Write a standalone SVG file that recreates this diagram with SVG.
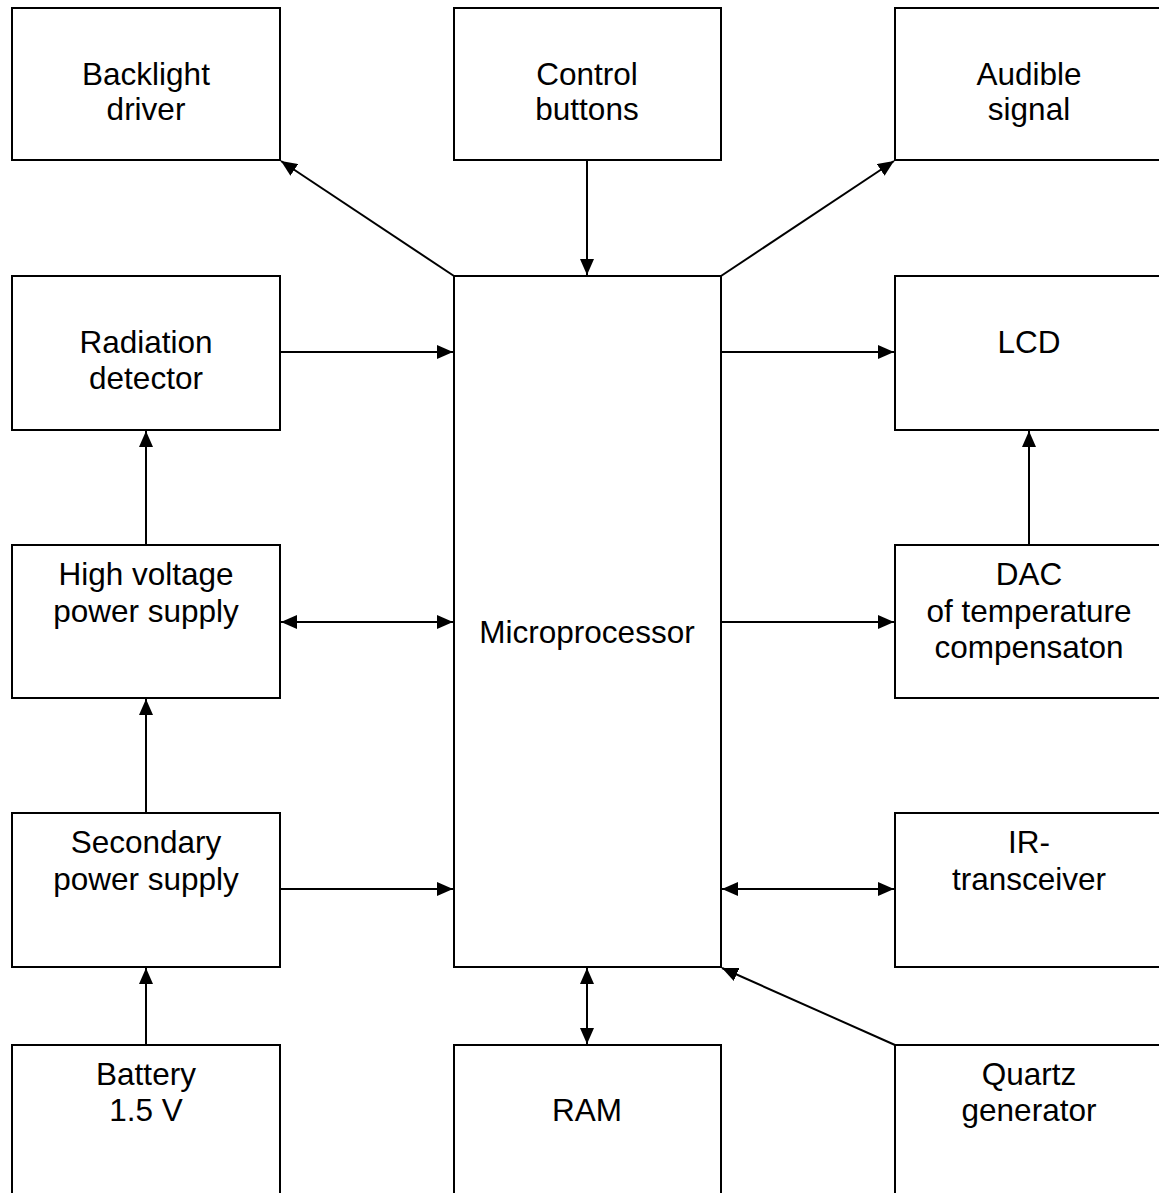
<svg xmlns="http://www.w3.org/2000/svg" width="1159" height="1193" viewBox="0 0 1159 1193">
<style>
.box{fill:#fff;stroke:#000;stroke-width:2}
.t{font-family:"Liberation Sans",Arial,sans-serif;font-size:31.5px;fill:#000;text-anchor:middle}
.c{stroke:#000;stroke-width:2;fill:none}
</style>
<defs>
<marker id="ah" viewBox="0 0 16 14" refX="16" refY="7" markerWidth="16" markerHeight="14" markerUnits="userSpaceOnUse" orient="auto-start-reverse">
<path d="M0,0 L16,7 L0,14 Z" fill="#000"/>
</marker>
</defs>
<rect width="1159" height="1193" fill="#fff"/>
<g id="backlight"><rect class="box" x="12" y="8" width="268" height="152"/><text class="t" x="146" y="85">Backlight</text><text class="t" x="146" y="120">driver</text></g>
<g id="control"><rect class="box" x="454" y="8" width="267" height="152"/><text class="t" x="587" y="85">Control</text><text class="t" x="587" y="120">buttons</text></g>
<g id="audible"><rect class="box" x="895" y="8" width="268" height="152"/><text class="t" x="1029" y="85">Audible</text><text class="t" x="1029" y="120">signal</text></g>
<g id="radiation"><rect class="box" x="12" y="276" width="268" height="154"/><text class="t" x="146" y="353">Radiation</text><text class="t" x="146" y="389">detector</text></g>
<g id="micro"><rect class="box" x="454" y="276" width="267" height="691"/><text class="t" x="587" y="643">Microprocessor</text></g>
<g id="lcd"><rect class="box" x="895" y="276" width="268" height="154"/><text class="t" x="1029" y="353">LCD</text></g>
<g id="hv"><rect class="box" x="12" y="545" width="268" height="153"/><text class="t" x="146" y="585">High voltage</text><text class="t" x="146" y="622">power supply</text></g>
<g id="dac"><rect class="box" x="895" y="545" width="268" height="153"/><text class="t" x="1029" y="585">DAC</text><text class="t" x="1029" y="622">of temperature</text><text class="t" x="1029" y="658">compensaton</text></g>
<g id="secondary"><rect class="box" x="12" y="813" width="268" height="154"/><text class="t" x="146" y="853">Secondary</text><text class="t" x="146" y="890">power supply</text></g>
<g id="ir"><rect class="box" x="895" y="813" width="268" height="154"/><text class="t" x="1029" y="853">IR-</text><text class="t" x="1029" y="890">transceiver</text></g>
<g id="battery"><rect class="box" x="12" y="1045" width="268" height="200"/><text class="t" x="146" y="1085">Battery</text><text class="t" x="146" y="1121">1.5 V</text></g>
<g id="ram"><rect class="box" x="454" y="1045" width="267" height="200"/><text class="t" x="587" y="1121">RAM</text></g>
<g id="quartz"><rect class="box" x="895" y="1045" width="268" height="200"/><text class="t" x="1029" y="1085">Quartz</text><text class="t" x="1029" y="1121">generator</text></g>
<g id="connectors">
<line class="c" x1="454" y1="276" x2="281" y2="161" marker-end="url(#ah)"/>
<line class="c" x1="587" y1="160" x2="587" y2="275" marker-end="url(#ah)"/>
<line class="c" x1="721" y1="276" x2="894" y2="161" marker-end="url(#ah)"/>
<line class="c" x1="280" y1="352" x2="453" y2="352" marker-end="url(#ah)"/>
<line class="c" x1="721" y1="352" x2="894" y2="352" marker-end="url(#ah)"/>
<line class="c" x1="146" y1="545" x2="146" y2="431" marker-end="url(#ah)"/>
<line class="c" x1="1029" y1="545" x2="1029" y2="431" marker-end="url(#ah)"/>
<line class="c" x1="281" y1="622" x2="453" y2="622" marker-start="url(#ah)" marker-end="url(#ah)"/>
<line class="c" x1="721" y1="622" x2="894" y2="622" marker-end="url(#ah)"/>
<line class="c" x1="146" y1="813" x2="146" y2="699" marker-end="url(#ah)"/>
<line class="c" x1="280" y1="889" x2="453" y2="889" marker-end="url(#ah)"/>
<line class="c" x1="722" y1="889" x2="894" y2="889" marker-start="url(#ah)" marker-end="url(#ah)"/>
<line class="c" x1="146" y1="1045" x2="146" y2="968" marker-end="url(#ah)"/>
<line class="c" x1="587" y1="968" x2="587" y2="1044" marker-start="url(#ah)" marker-end="url(#ah)"/>
<line class="c" x1="895" y1="1045" x2="722" y2="968" marker-end="url(#ah)"/>
</g>
</svg>
